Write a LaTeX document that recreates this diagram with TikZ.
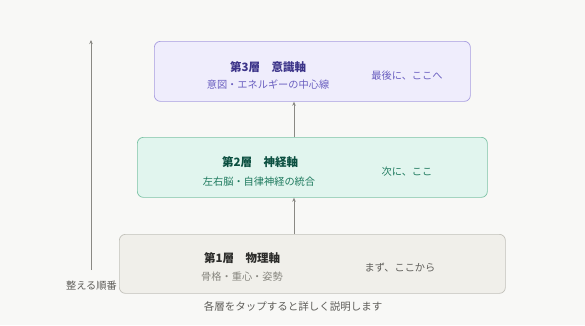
\documentclass[tikz,border=0pt]{standalone}
\usepackage{fontspec}
\setmainfont{Noto Sans CJK JP}
\usetikzlibrary{arrows.meta}
\definecolor{bg}{HTML}{F8F8F6}
\definecolor{pfill}{HTML}{EFEDFC}
\definecolor{pdraw}{HTML}{A89DE0}
\definecolor{ptitle}{HTML}{3C3489}
\definecolor{ptext}{HTML}{6A5FC0}
\definecolor{gfill}{HTML}{E1F5EE}
\definecolor{gdraw}{HTML}{7CC3A5}
\definecolor{gtitle}{HTML}{0B4F40}
\definecolor{gtext}{HTML}{1E7A5E}
\definecolor{sfill}{HTML}{F0EFEA}
\definecolor{sdraw}{HTML}{C2C1BA}
\definecolor{stitle}{HTML}{2C2C2A}
\definecolor{stext}{HTML}{87867F}
\definecolor{sright}{HTML}{5F5E5A}
\definecolor{linec}{HTML}{8A8984}
\tikzset{
  layer/.style={draw, rounded corners=6pt, line width=0.7pt, inner sep=0pt, anchor=north west},
  ttl/.style={font=\fontsize{11.5}{13}\selectfont\bfseries, inner sep=0pt},
  sub/.style={font=\fontsize{10.2}{12}\selectfont, inner sep=0pt},
  conn/.style={draw=linec, line width=0.6pt, -{Stealth[length=4pt,width=3.5pt]}},
}
\begin{document}
\begin{tikzpicture}[x=1pt,y=-1pt]
\fill[bg] (0,0) rectangle (585,325);
\useasboundingbox (0,0) rectangle (585,325);
% boxes
\node[layer, fill=pfill, draw=pdraw, minimum width=316pt, minimum height=60pt] (b3) at (154,41) {};
\node[layer, fill=gfill, draw=gdraw, minimum width=350pt, minimum height=60pt] (b2) at (137,137) {};
\node[layer, fill=sfill, draw=sdraw, minimum width=386pt, minimum height=59pt] (b1) at (119,234) {};
% layer 3
\node[ttl, text=ptitle] (t3) at (268,67) {第3層\hspace{1em}意識軸};
\node[sub, text=ptext] (s3) at (268,85) {意図・エネルギーの中心線};
\node[sub, text=ptext] (r3) at (407,76) {最後に、ここへ};
% layer 2
\node[ttl, text=gtitle] (t2) at (260,162) {第2層\hspace{1em}神経軸};
\node[sub, text=gtext] (s2) at (259,182) {左右脳・自律神経の統合};
\node[sub, text=gtext] (r2) at (407,172) {次に、ここ};
% layer 1
\node[ttl, text=stitle] (t1) at (242,258) {第1層\hspace{1em}物理軸};
\node[sub, text=stext] (s1) at (242,277) {骨格・重心・姿勢};
\node[sub, text=sright] (r1) at (400,268) {まず、ここから};
% connectors
\draw[conn] (b1.north -| 294,0) -- (b2.south -| 294,0);
\draw[conn] (b2.north -| 294,0) -- (b3.south -| 294,0);
% left order arrow
\coordinate (lb) at (91,270);
\coordinate (lt) at (91,40);
\draw[conn] (lb) -- (lt);
\node[sub, text=sright, anchor=east] (order) at (117,286) {整える順番};
\node[sub, text=sright, font=\fontsize{10.5}{12}\selectfont] (hint) at (293,306) {各層をタップすると詳しく説明します};
\end{tikzpicture}
\end{document}
